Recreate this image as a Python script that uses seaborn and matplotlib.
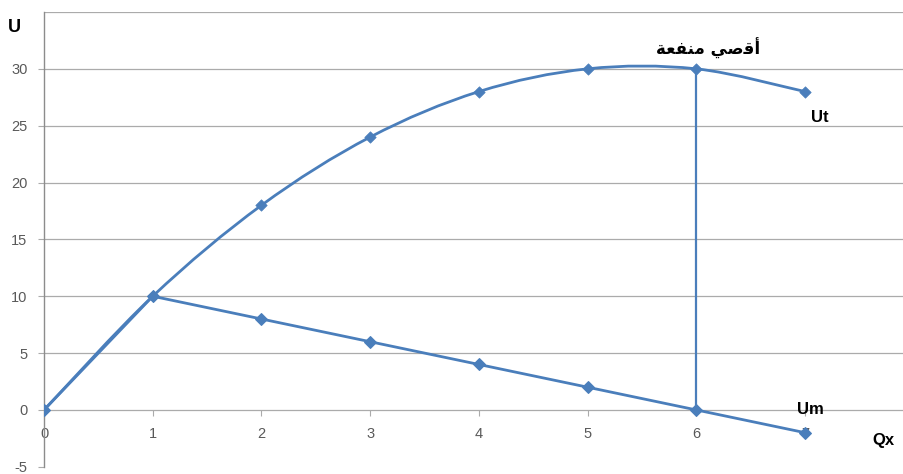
import numpy as np
import pandas as pd
import matplotlib
matplotlib.use("Agg")
import matplotlib.pyplot as plt
from matplotlib.path import Path
from matplotlib.patches import PathPatch
import seaborn as sns

# Quantity consumed and the two utility series
qx = [0, 1, 2, 3, 4, 5, 6, 7]
ut = [0, 10, 18, 24, 28, 30, 30, 28]   # total utility
um = [0, 10, 8, 6, 4, 2, 0, -2]        # marginal utility
x_ticks = [0, 1, 2, 3, 4, 5, 6, 7]
y_ticks = [-5, 0, 5, 10, 15, 20, 25, 30]
grid_levels = [0, 5, 10, 15, 20, 25, 30, 35]
max_q = 6

# Arabic label, written with presentation forms in visual order
# because matplotlib draws glyphs left to right without shaping.
max_label = "\uFE94\uFECC\uFED4\uFEE8\uFEE3 \uFEF2\uFEBB\uFED7\uFE83"

BLUE = "#4a7ebb"
GRID = "#ababab"
TICK = "#595959"

sns.set_theme(style="white")
plt.rcParams["font.family"] = ["Liberation Sans", "DejaVu Sans"]

df = pd.DataFrame({"Qx": qx, "Ut": ut, "Um": um})

fig = plt.figure(figsize=(9.04, 4.74), dpi=100)
ax = fig.add_axes([0.0487, 0.0152, 0.9513, 0.9595])
ax.set_xlim(0, 7.91)
ax.set_ylim(-5, 35)

# horizontal gridlines
for g in grid_levels:
    ax.axhline(g, color=GRID, lw=0.9, zorder=0)

# smoothed total-utility curve (Catmull-Rom segments as cubic Beziers)
pts = np.column_stack([qx, ut]).astype(float)
ext = np.vstack([pts[0], pts, pts[-1]])
verts = [tuple(pts[0])]
codes = [Path.MOVETO]
for i in range(1, len(ext) - 2):
    p0, p1, p2, p3 = ext[i - 1], ext[i], ext[i + 1], ext[i + 2]
    c1 = p1 + (p2 - p0) / 6.0
    c2 = p2 - (p3 - p1) / 6.0
    verts += [tuple(c1), tuple(c2), tuple(p2)]
    codes += [Path.CURVE4] * 3
ax.add_patch(PathPatch(Path(verts, codes), facecolor="none",
                       edgecolor=BLUE, lw=2.0, zorder=3))
sns.scatterplot(data=df, x="Qx", y="Ut", marker="D", s=34, color=BLUE,
                edgecolor=BLUE, ax=ax, zorder=4, legend=False)

# marginal utility, straight segments
sns.lineplot(data=df, x="Qx", y="Um", color=BLUE, lw=2.0, marker="D",
             markersize=6, markeredgecolor=BLUE, ax=ax, zorder=4,
             legend=False)

# vertical guide at maximum total utility
ax.plot([max_q, max_q], [0, ut[qx.index(max_q)]], color=BLUE, lw=1.6,
        zorder=2)

# axes styling
for side in ["top", "right"]:
    ax.spines[side].set_visible(False)
ax.spines["left"].set_color("#8c8c8c")
ax.spines["left"].set_linewidth(1.0)
ax.spines["bottom"].set_position(("data", 0))
ax.spines["bottom"].set_color("none")

ax.set_xticks(x_ticks)
ax.set_xticklabels([str(v) for v in x_ticks])
ax.set_yticks(y_ticks)
ax.set_yticklabels([str(v) for v in y_ticks])
ax.tick_params(axis="x", direction="out", length=4, width=0.8,
               color=GRID, labelcolor=TICK, labelsize=10.5, pad=8,
               bottom=True)
ax.tick_params(axis="y", direction="out", length=4, width=0.8,
               color=GRID, labelcolor=TICK, labelsize=10.5, pad=8, left=True)
ax.set_xlabel("")
ax.set_ylabel("")

# annotations
bold = dict(fontweight="bold", color="black", ha="center", va="center")
ax.text(-0.27, 33.6, "U", fontsize=13, clip_on=False, **bold)
ax.text(7.72, -2.7, "Qx", fontsize=12, **bold)
ax.text(7.14, 25.7, "Ut", fontsize=12, **bold)
ax.text(7.05, 0.0, "Um", fontsize=12, **bold)
ax.text(6.11, 31.8, max_label, fontsize=12, family="DejaVu Sans",
        fontweight="bold", color="black", ha="center", va="center")

fig.savefig("out.png", dpi=100)
